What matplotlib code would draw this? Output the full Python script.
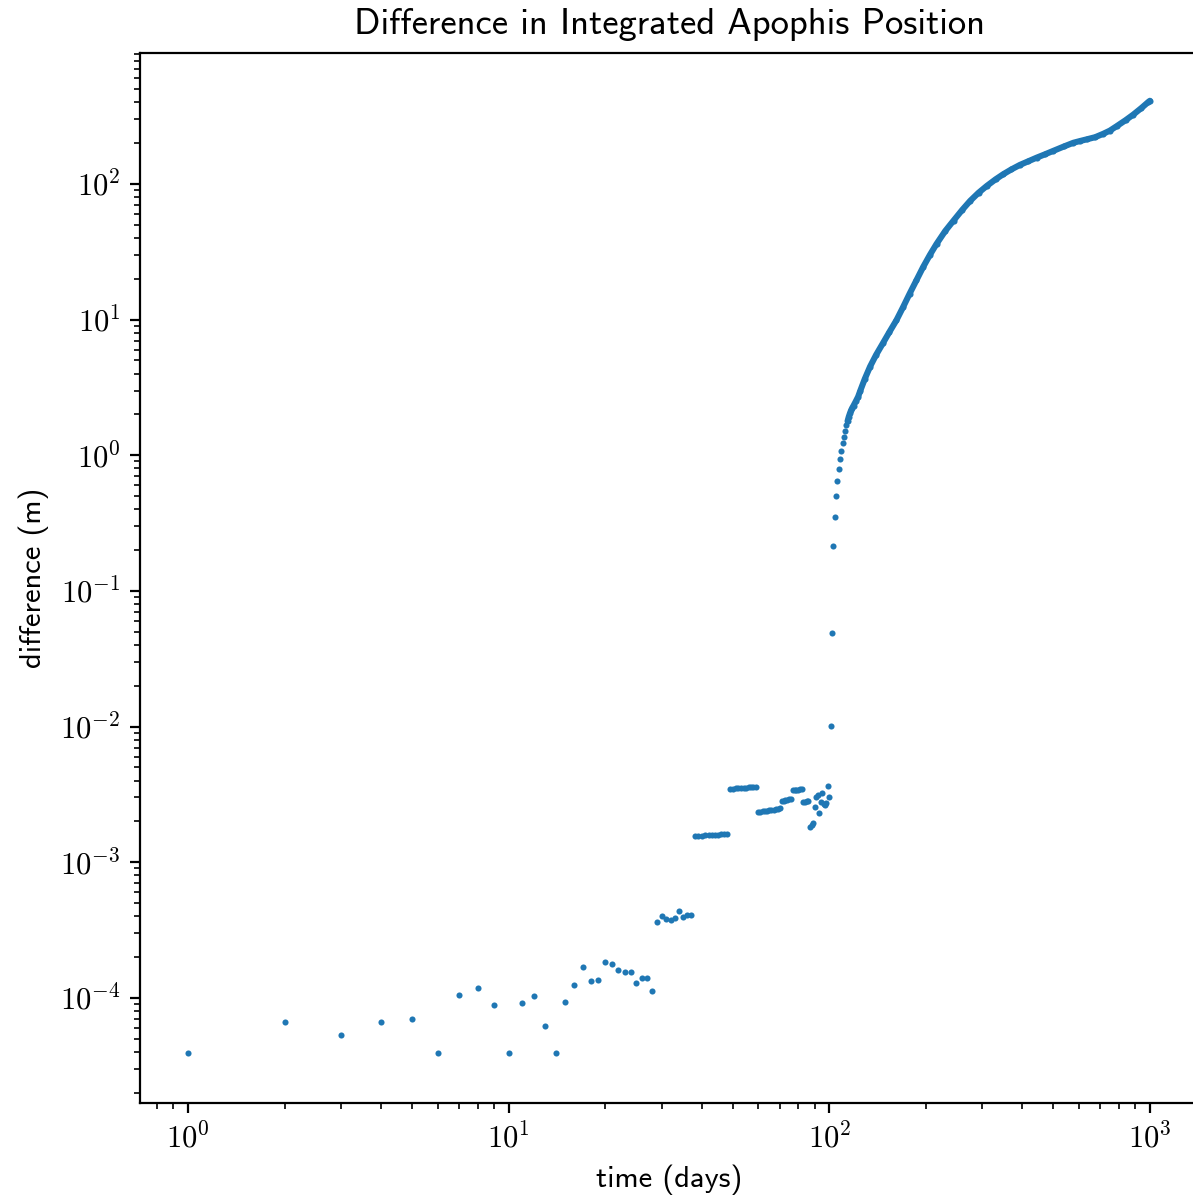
import math
import matplotlib.pyplot as plt
from matplotlib.ticker import FuncFormatter

plt.rcParams['mathtext.fontset'] = 'cm'
plt.rcParams['mathtext.default'] = 'rm'

# day-by-day differences (m), days 1..113
early_days = list(range(1, 114))
early_diff = [
    3.9e-5, 6.6e-5, 5.3e-5, 6.6e-5, 7.0e-5, 3.9e-5, 1.05e-4, 1.18e-4, 8.8e-5, 3.9e-5,
    9.2e-5, 1.04e-4, 6.2e-5, 3.95e-5, 9.4e-5, 1.25e-4, 1.68e-4, 1.33e-4, 1.35e-4, 1.84e-4,
    1.77e-4, 1.60e-4, 1.55e-4, 1.55e-4, 1.28e-4, 1.40e-4, 1.40e-4, 1.13e-4,
    3.65e-4, 3.99e-4, 3.84e-4, 3.77e-4, 3.91e-4, 4.37e-4, 3.94e-4, 4.06e-4, 4.08e-4,
    1.56e-3, 1.565e-3, 1.57e-3, 1.575e-3, 1.58e-3, 1.585e-3, 1.59e-3, 1.60e-3, 1.605e-3,
    1.61e-3, 1.62e-3,
    3.48e-3, 3.49e-3, 3.50e-3, 3.51e-3, 3.52e-3, 3.53e-3, 3.55e-3, 3.56e-3, 3.57e-3,
    3.58e-3, 3.59e-3,
    2.34e-3, 2.35e-3, 2.37e-3, 2.38e-3, 2.40e-3, 2.41e-3, 2.43e-3, 2.44e-3, 2.46e-3,
    2.47e-3, 2.49e-3,
    2.83e-3, 2.85e-3, 2.87e-3, 2.89e-3, 2.91e-3, 2.93e-3,
    3.38e-3, 3.40e-3, 3.41e-3, 3.43e-3, 3.44e-3, 3.45e-3,
    2.78e-3, 2.80e-3, 2.82e-3, 2.84e-3,
    1.82e-3, 1.88e-3, 1.95e-3,
    2.55e-3, 3.05e-3, 3.15e-3, 2.31e-3, 2.77e-3, 3.24e-3, 2.70e-3, 2.65e-3, 2.75e-3,
    3.62e-3, 3.00e-3,
    1.01e-2, 4.9e-2, 0.215, 0.351, 0.497, 0.644, 0.785, 0.934, 1.08, 1.23, 1.37, 1.52, 1.67,
]

# dense part of the run (points overlap into a continuous band)
late_days = [114, 115, 116, 117, 118, 119, 121, 123, 125, 129, 134, 140, 147, 154, 162,
             170, 178, 187, 196, 206, 216, 230, 244, 260, 275, 292, 310, 330, 349, 370,
             393, 418, 443, 470, 499, 540, 577, 605, 635, 675, 715, 750, 787, 840, 887,
             940, 988, 1000]
late_diff = [1.78, 1.92, 2.04, 2.15, 2.24, 2.32, 2.50, 2.70, 3.00, 3.65, 4.50, 5.5, 6.7,
             8.1, 9.9, 12.4, 15.5, 19.5, 24.3, 30.0, 36.1, 45.0, 53.6, 64.5, 75.0, 86.0,
             96.7, 108.0, 118.0, 128.0, 138.0, 147.0, 156.0, 165.0, 175.0, 189.0, 201.0,
             207.0, 213.0, 221.0, 234.0, 247.0, 266.0, 295.0, 324.0, 362.0, 401.0, 410.0]

W, H, DPI = 1193, 1198, 200
fig = plt.figure(figsize=(W / DPI, H / DPI), dpi=DPI)
ax = fig.add_axes([140 / W, (H - 1103) / H, (1198 - 140) / W, (1103 - 53) / H])

dot = 2.2  # marker diameter in points
ax.plot(late_days, late_diff, color='C0', lw=dot, solid_capstyle='round',
        solid_joinstyle='round')
ax.scatter(early_days + late_days, early_diff + late_diff, s=dot ** 2, color='C0',
           linewidths=0)

ax.set_xscale('log')
ax.set_yscale('log')
ax.set_xlim(10 ** -0.15, 10 ** 3.15)
ax.set_ylim(10 ** -4.775, 10 ** 2.965)

pow10 = FuncFormatter(lambda v, pos: r'$10^{%d}$' % round(math.log10(v)))
ax.xaxis.set_major_formatter(pow10)
ax.yaxis.set_major_formatter(pow10)

ax.set_title('Difference in Integrated Apophis Position', family='cmss10', fontsize=13.2,
             pad=7)
ax.set_xlabel('time (days)', family='cmss10', fontsize=11)
ax.set_ylabel('difference (m)', family='cmss10', fontsize=11)
ax.tick_params(labelsize=11)

fig.savefig('out.png', dpi=DPI)
